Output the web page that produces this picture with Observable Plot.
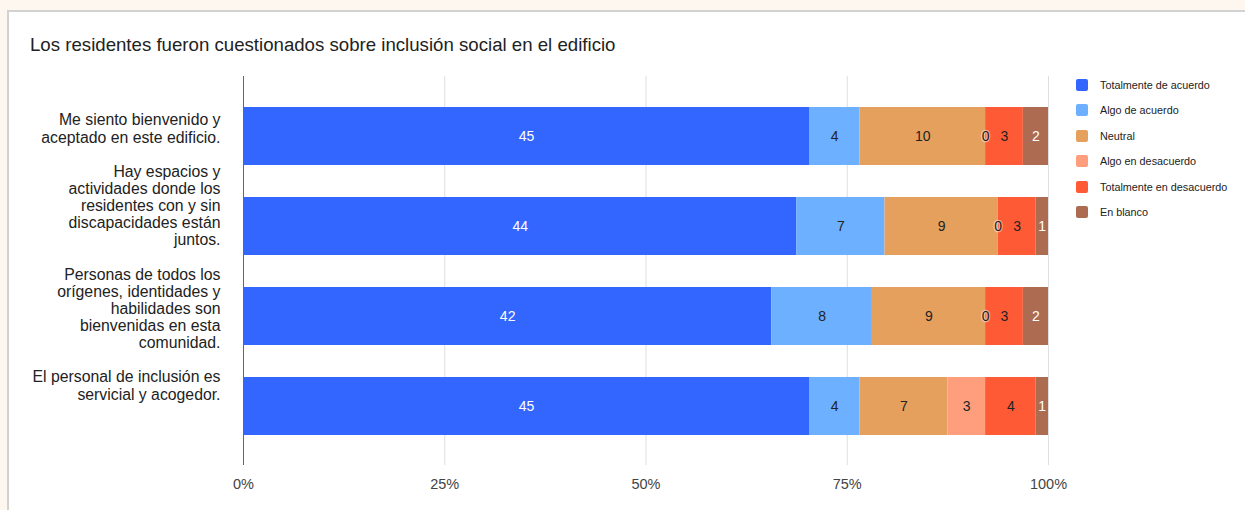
<!DOCTYPE html>
<html>
<head>
<meta charset="utf-8">
<script src="https://cdn.jsdelivr.net/npm/d3@7"></script>
<script src="https://cdn.jsdelivr.net/npm/@observablehq/plot@0.6"></script>
<style>
  html, body { margin: 0; padding: 0; }
  body { width: 1245px; height: 510px; background: #fdf7ef; position: relative; overflow: hidden;
         font-family: "Liberation Sans", Arial, sans-serif; }
  #card { position: absolute; left: 7px; top: 10px; width: 1260px; height: 520px; background: #fff;
          border-left: 2px solid #d2d2d2; border-top: 2px solid #d2d2d2; }
  #title { position: absolute; left: 30px; top: 34px; font-size: 18.65px; color: #222; white-space: nowrap; }
  #chart { position: absolute; left: 0; top: 0; }
  #legend { position: absolute; left: 1076px; top: 79px; }
  .item { display: flex; align-items: center; height: 12px; margin-bottom: 13.4px; font-size: 10.8px; color: #222; }
  .sw { width: 12px; height: 12px; border-radius: 2px; margin-right: 12px; flex: none; }
</style>
</head>
<body>
<div id="card"></div>
<div id="title">Los residentes fueron cuestionados sobre inclusión social en el edificio</div>
<div id="chart"></div>
<div id="legend"></div>
<script>
// ---- data ----
const categories = [
  "Me siento bienvenido y aceptado en este edificio.",
  "Hay espacios y actividades donde los residentes con y sin discapacidades están juntos.",
  "Personas de todos los orígenes, identidades y habilidades son bienvenidas en esta comunidad.",
  "El personal de inclusión es servicial y acogedor."
];
const categoryLabels = [
  "Me siento bienvenido y\naceptado en este edificio.",
  "Hay espacios y\nactividades donde los\nresidentes con y sin\ndiscapacidades están\njuntos.",
  "Personas de todos los\norígenes, identidades y\nhabilidades son\nbienvenidas en esta\ncomunidad.",
  "El personal de inclusión es\nservicial y acogedor."
];
const seriesNames = [
  "Totalmente de acuerdo",
  "Algo de acuerdo",
  "Neutral",
  "Algo en desacuerdo",
  "Totalmente en desacuerdo",
  "En blanco"
];
const totalmenteDeAcuerdo    = [45, 44, 42, 45];
const algoDeAcuerdo          = [4, 7, 8, 4];
const neutral                = [10, 9, 9, 7];
const algoEnDesacuerdo       = [0, 0, 0, 3];
const totalmenteEnDesacuerdo = [3, 3, 3, 4];
const enBlanco               = [2, 1, 2, 1];
const seriesColors = ["#3366ff", "#6cb0ff", "#e6a05e", "#ff9e7d", "#ff5a36", "#ad6c52"];
const xTicks = [0, 0.25, 0.5, 0.75, 1];

// ---- tidy table ----
const seriesValues = [totalmenteDeAcuerdo, algoDeAcuerdo, neutral, algoEnDesacuerdo, totalmenteEnDesacuerdo, enBlanco];
const table = [];
categories.forEach((c, i) => {
  seriesNames.forEach((s, j) => table.push({category: c, series: s, value: seriesValues[j][i]}));
});

const stackOpts = (extra) => Plot.stackX({
  x: "value", y: "category", z: "series", order: seriesNames, offset: "normalize", ...extra
});
const whiteText = new Set(["Totalmente de acuerdo", "En blanco"]);
const labelOf = d => categoryLabels[categories.indexOf(d)];

const chart = Plot.plot({
  width: 1245,
  height: 510,
  marginLeft: 243,
  marginRight: 197,
  marginTop: 76,
  marginBottom: 45,
  style: {background: "transparent", fontFamily: "'Liberation Sans', Arial, sans-serif", color: "#444"},
  x: {domain: [0, 1], axis: null},
  y: {domain: categories, paddingInner: 0.36, paddingOuter: 0.33, axis: null},
  color: {domain: seriesNames, range: seriesColors},
  marks: [
    Plot.ruleX(xTicks.slice(1), {stroke: "#dedede", strokeWidth: 1}),
    Plot.ruleX([0], {stroke: "#666", strokeWidth: 1}),
    Plot.axisX({ticks: xTicks, tickFormat: d3.format(".0%"), tickSize: 0, tickPadding: 13,
                fontSize: 14.5, fill: "#444", label: null}),
    Plot.barX(table, stackOpts({fill: "series"})),
    Plot.text(table, Plot.filter(d => whiteText.has(d.series) && d.value > 0,
      stackOpts({text: "value", fill: "#fff", fontSize: 14}))),
    Plot.text(table, Plot.filter(d => !whiteText.has(d.series) && d.value > 0,
      stackOpts({text: "value", fill: "#222", fontSize: 14}))),
    Plot.text(table, Plot.filter(d => d.value === 0,
      stackOpts({text: "value", fill: "#222", fontSize: 14, stroke: "#fff", strokeOpacity: 0.45, strokeWidth: 2.5}))),
    Plot.text(categories, {
      filter: d => categories.indexOf(d) % 2 === 0,
      y: d => d, text: labelOf, frameAnchor: "left", dx: -23, dy: -8,
      textAnchor: "end", lineAnchor: "middle", lineHeight: 1.08, fontSize: 15.8, fill: "#222"
    }),
    Plot.text(categories, {
      filter: d => categories.indexOf(d) % 2 === 1,
      y: d => d, text: labelOf, frameAnchor: "left", dx: -23, dy: -21,
      textAnchor: "end", lineAnchor: "middle", lineHeight: 1.08, fontSize: 15.8, fill: "#222"
    })
  ]
});
document.getElementById("chart").appendChild(chart);

// ---- legend ----
const legend = document.getElementById("legend");
seriesNames.forEach((s, i) => {
  const it = document.createElement("div");
  it.className = "item";
  it.innerHTML = `<span class="sw" style="background:${seriesColors[i]}"></span><span>${s}</span>`;
  legend.appendChild(it);
});
</script>
</body>
</html>
